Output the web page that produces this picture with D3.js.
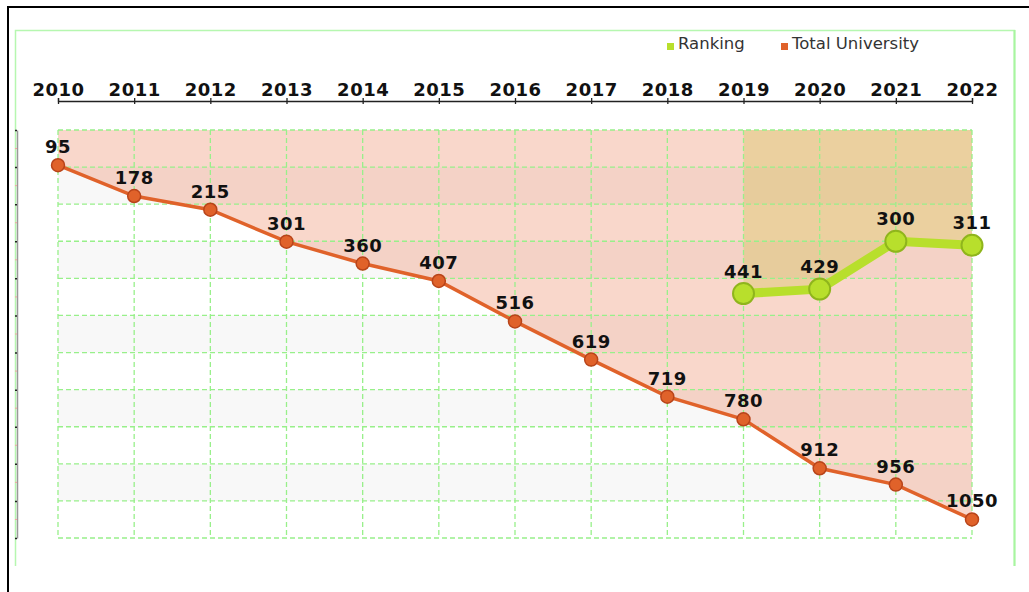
<!DOCTYPE html>
<html>
<head>
<meta charset="utf-8">
<script src="https://cdn.jsdelivr.net/npm/d3@7"></script>
<style>
  body { margin: 0; background: #fff; }
  svg { display: block; }
</style>
</head>
<body>
<div id="chart"></div>
<script>
var years = [2010, 2011, 2012, 2013, 2014, 2015, 2016, 2017, 2018, 2019, 2020, 2021, 2022]
var totalUniversity = [95, 178, 215, 301, 360, 407, 516, 619, 719, 780, 912, 956, 1050]
var rankingYears = [2019, 2020, 2021, 2022]
var ranking = [441, 429, 300, 311]
var yTicks = [0, 100, 200, 300, 400, 500, 600, 700, 800, 900, 1000, 1100]
var greyBands = [100, 300, 500, 700, 900]
var seriesNames = ['Ranking', 'Total University']

var W = 1029, H = 592
var margin = {top: 130, left: 58, right: 57, bottom: 54}
var width = W - margin.left - margin.right,
    height = H - margin.top - margin.bottom

var orange = '#e0622a', orangeDark = '#b8441a'
var green = '#b8df2c', greenDark = '#8fb51c'
var gridColor = '#98f08a'
var labelFont = '"DejaVu Sans", sans-serif'

var svg = d3.select('#chart').append('svg')
    .attr('width', W)
    .attr('height', H)

// outer black frame (only top + left visible)
svg.append('line').attr('x1', 7).attr('x2', W).attr('y1', 7).attr('y2', 7)
    .attr('stroke', '#000').attr('stroke-width', 2)
svg.append('line').attr('x1', 8).attr('x2', 8).attr('y1', 6).attr('y2', H)
    .attr('stroke', '#000').attr('stroke-width', 2)

// light green panel (top, left, right edges)
svg.append('path')
    .attr('d', 'M15.5,566 V30.5 H1014.5 V566')
    .attr('fill', 'none')
    .attr('stroke', '#b6f7b0').attr('stroke-width', 1.5)
svg.append('line')
    .attr('x1', 1014.5).attr('x2', 1014.5).attr('y1', 30).attr('y2', 566)
    .attr('stroke', '#a8f5a0').attr('stroke-width', 2)

var x = d3.scalePoint()
    .domain(years)
    .range([0, width])

var y = d3.scaleLinear()
    .domain([0, 1100])
    .range([0, height])

var g = svg.append('g')
    .attr('transform', 'translate(' + margin.left + ',' + margin.top + ')')

// alternating bands
g.selectAll('.band')
    .data(greyBands)
  .enter().append('rect')
    .attr('class', 'band')
    .attr('x', 0)
    .attr('y', function(d){ return y(d) })
    .attr('width', width)
    .attr('height', function(d){ return y(d + 100) - y(d) })
    .attr('fill', '#f8f8f8')

// areas (filled from the line up to the top)
var totalData = years.map(function(yr, i){ return {year: yr, value: totalUniversity[i]} })
var rankData = rankingYears.map(function(yr, i){ return {year: yr, value: ranking[i]} })

var area = d3.area()
    .x(function(d){ return x(d.year) })
    .y0(y(0))
    .y1(function(d){ return y(d.value) })

g.append('path')
    .datum(totalData)
    .attr('d', area)
    .attr('fill', 'rgb(232, 110, 70)')
    .attr('fill-opacity', 0.28)

g.append('path')
    .datum(rankData)
    .attr('d', area)
    .attr('fill', 'rgb(206, 193, 67)')
    .attr('fill-opacity', 0.32)

// grid
g.selectAll('.hgrid')
    .data(yTicks)
  .enter().append('line')
    .attr('class', 'hgrid')
    .attr('x1', 0).attr('x2', width)
    .attr('y1', function(d){ return y(d) })
    .attr('y2', function(d){ return y(d) })
    .attr('stroke', gridColor)
    .attr('stroke-width', 1.3)
    .attr('stroke-dasharray', '5,3')

g.selectAll('.vgrid')
    .data(years)
  .enter().append('line')
    .attr('class', 'vgrid')
    .attr('x1', function(d){ return x(d) })
    .attr('x2', function(d){ return x(d) })
    .attr('y1', 0).attr('y2', height)
    .attr('stroke', gridColor)
    .attr('stroke-width', 1.3)
    .attr('stroke-dasharray', '5,3')

// top x axis
var xAxis = d3.axisTop(x).tickSize(3).tickSizeOuter(3).tickPadding(2)
var xg = svg.append('g')
    .attr('transform', 'translate(' + margin.left + ',101)')
    .call(xAxis)
xg.select('.domain').attr('stroke', '#222').attr('stroke-width', 1.3)
xg.selectAll('.tick line').attr('y1', 3).attr('y2', -3).attr('stroke', '#222').attr('stroke-width', 1.3)
xg.selectAll('.tick text')
    .attr('font-family', labelFont)
    .attr('font-weight', 'bold')
    .attr('font-size', '18px')
    .attr('fill', '#111')
    .attr('letter-spacing', '0.5px')

// left y axis (no labels)
var yAxis = d3.axisLeft(y).tickValues(yTicks).tickSize(2).tickSizeOuter(0).tickFormat('')
var yg = svg.append('g')
    .attr('transform', 'translate(17,' + margin.top + ')')
    .call(yAxis)
yg.select('.domain').attr('stroke', '#999').attr('stroke-width', 1.5)
yg.selectAll('.tick line').attr('stroke', '#222').attr('stroke-width', 1.5)
yg.selectAll('.minor')
    .data(yTicks.slice(0, -1))
  .enter().append('line')
    .attr('class', 'minor')
    .attr('x1', -2).attr('x2', 0)
    .attr('y1', function(d){ return y(d + 50) })
    .attr('y2', function(d){ return y(d + 50) })
    .attr('stroke', '#f4a0a0')

// lines
var line = d3.line()
    .x(function(d){ return x(d.year) })
    .y(function(d){ return y(d.value) })

g.append('path')
    .datum(totalData)
    .attr('d', line)
    .attr('fill', 'none')
    .attr('stroke', orange)
    .attr('stroke-width', 3.5)

g.selectAll('.dotTotal')
    .data(totalData)
  .enter().append('circle')
    .attr('class', 'dotTotal')
    .attr('cx', function(d){ return x(d.year) })
    .attr('cy', function(d){ return y(d.value) })
    .attr('r', 6.5)
    .attr('fill', orange)
    .attr('stroke', orangeDark)
    .attr('stroke-width', 1.5)

g.append('path')
    .datum(rankData)
    .attr('d', line)
    .attr('fill', 'none')
    .attr('stroke', green)
    .attr('stroke-width', 9)
    .attr('stroke-linejoin', 'round')

g.selectAll('.dotRank')
    .data(rankData)
  .enter().append('circle')
    .attr('class', 'dotRank')
    .attr('cx', function(d){ return x(d.year) })
    .attr('cy', function(d){ return y(d.value) })
    .attr('r', 10.5)
    .attr('fill', green)
    .attr('stroke', greenDark)
    .attr('stroke-width', 2)

// value labels
function addLabels(data, offset) {
  g.selectAll(null)
      .data(data)
    .enter().append('text')
      .attr('x', function(d){ return x(d.year) })
      .attr('y', function(d){ return y(d.value) - offset })
      .attr('text-anchor', 'middle')
      .attr('font-family', labelFont)
      .attr('font-weight', 'bold')
      .attr('font-size', '18px')
      .attr('letter-spacing', '0.5px')
      .attr('fill', '#111')
      .text(function(d){ return d.value })
}
addLabels(totalData, 12)
addLabels(rankData, 16)

// legend
var legend = svg.append('g').attr('transform', 'translate(667,43)')
var legendItems = [
  {name: seriesNames[0], color: green, x: 0},
  {name: seriesNames[1], color: orange, x: 114}
]
var li = legend.selectAll('.item')
    .data(legendItems)
  .enter().append('g')
    .attr('transform', function(d){ return 'translate(' + d.x + ',0)' })
li.append('rect')
    .attr('width', 7).attr('height', 7)
    .attr('fill', function(d){ return d.color })
li.append('text')
    .attr('x', 11)
    .attr('y', 6)
    .attr('font-family', '"DejaVu Sans", sans-serif')
    .attr('font-size', '16.5px')
    .attr('fill', '#333')
    .text(function(d){ return d.name })
</script>
</body>
</html>
